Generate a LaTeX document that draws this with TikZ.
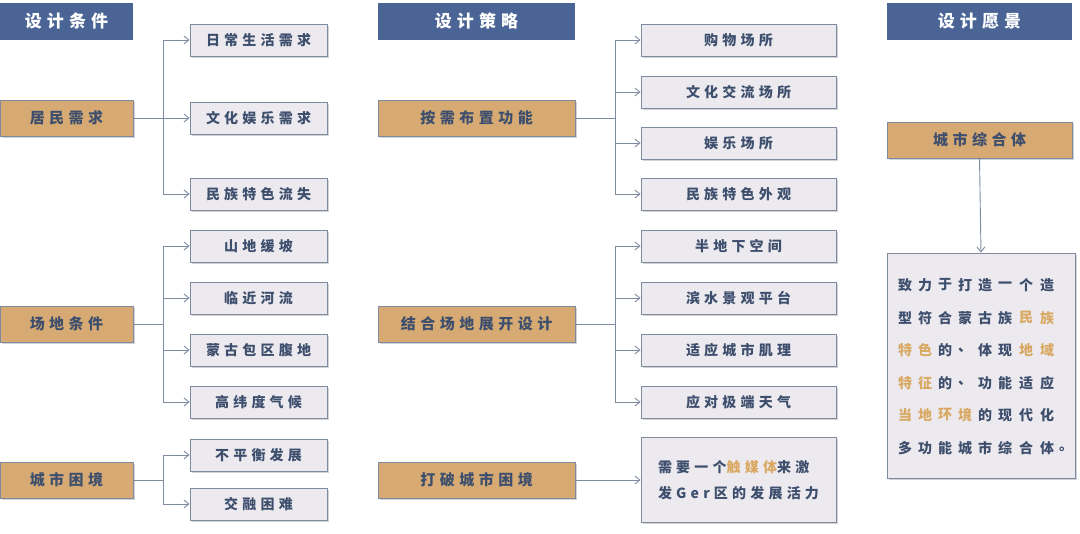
\documentclass[tikz,border=0pt]{standalone}
\usepackage{fontspec}
\usetikzlibrary{shadows,arrows.meta}
\newfontfamily\cjk{Noto Sans CJK SC}[LetterSpace=30]
\newfontfamily\cjkb{Noto Sans CJK SC}
\definecolor{hblue}{HTML}{4A6595}
\definecolor{horange}{HTML}{D6AA72}
\definecolor{tdark}{HTML}{3E4F6E}
\definecolor{bfill}{HTML}{ECEAEE}
\definecolor{bline}{HTML}{7D8AA0}
\definecolor{tor}{HTML}{D9A862}
\begin{document}
\begin{tikzpicture}[x=1pt,y=-1pt,
  base/.style={inner sep=0,font=\cjk\bfseries},
  hdr/.style={base,fill=hblue,text=white,minimum height=37,font=\cjk\bfseries\fontsize{17}{17}\selectfont},
  par/.style={base,fill=horange,draw=bline,line width=0.8,text=tdark,minimum height=36,font=\cjk\bfseries\fontsize{15}{15}\selectfont,drop shadow={shadow xshift=2pt,shadow yshift=-2pt,opacity=0.35}},
  kid/.style={base,fill=bfill,draw=bline,line width=0.8,text=tdark,minimum height=32,font=\cjk\bfseries\fontsize{14}{14}\selectfont,drop shadow={shadow xshift=2pt,shadow yshift=-2pt,opacity=0.35}},
  ln/.style={draw=bline,line width=0.9},
  ar/.style={ln,-{Straight Barb[length=5pt,width=8pt]}}]
\useasboundingbox (0,0) rectangle (1080,534);
\fill[white] (0,0) rectangle (1080,534);
% headers
\node[hdr,minimum width=133] (h1) at (66.5,21.5) {设计条件};
\node[hdr,minimum width=197] (h2) at (476.5,21.5) {设计策略};
\node[hdr,minimum width=185] (h3) at (979.5,21.5) {设计愿景};
% left parents
\node[par,minimum width=133] (p1) at (66.5,118) {居民需求};
\node[par,minimum width=133] (p2) at (66.5,324) {场地条件};
\node[par,minimum width=133] (p3) at (66.5,480) {城市困境};
% left kids
\foreach \n/\y/\t in {a1/40/日常生活需求,a2/118/文化娱乐需求,a3/194/民族特色流失,
  b1/246/山地缓坡,b2/298/临近河流,b3/350/蒙古包区腹地,b4/402/高纬度气候,
  c1/455/不平衡发展,c2/504/交融困难}
  \node[kid,minimum width=137] (\n) at (258.5,\y) {\t};
% mid parents
\node[par,minimum width=197] (q1) at (476.5,118) {按需布置功能};
\node[par,minimum width=197] (q2) at (476.5,324) {结合场地展开设计};
\node[par,minimum width=197] (q3) at (476.5,480) {打破城市困境};
% right kids
\foreach \n/\y/\t in {d1/40/购物场所,d2/92/文化交流场所,d3/143/娱乐场所,d4/194/民族特色外观,
  e1/246/半地下空间,e2/298/滨水景观平台,e3/350/适应城市肌理,e4/402/应对极端天气}
  \node[kid,minimum width=195] (\n) at (738.5,\y) {\t};
\node[kid,minimum width=195,minimum height=85,align=left] (f1) at (738.5,480)
  {需要一个\textcolor{tor}{触媒体}来激\\[12pt]发Ger区的发展活力};
% connectors left
\coordinate (t1) at (163,118);
\draw[ln] (p1.east) -- (t1);
\draw[ar] (t1) |- (a1.west); \draw[ar] (t1) -- (a2.west); \draw[ar] (t1) |- (a3.west);
\coordinate (t2) at (163,324);
\draw[ln] (p2.east) -- (t2);
\foreach \k in {b1,b2,b3,b4} \draw[ar] (t2) |- (\k.west);
\coordinate (t3) at (163,480);
\draw[ln] (p3.east) -- (t3);
\foreach \k in {c1,c2} \draw[ar] (t3) |- (\k.west);
% connectors mid
\coordinate (u1) at (615,118);
\draw[ln] (q1.east) -- (u1);
\foreach \k in {d1,d2,d3,d4} \draw[ar] (u1) |- (\k.west);
\coordinate (u2) at (615,324);
\draw[ln] (q2.east) -- (u2);
\foreach \k in {e1,e2,e3,e4} \draw[ar] (u2) |- (\k.west);
\draw[ar] (q3.east) -- (f1.west);
% right
\node[par,minimum width=185] (r1) at (979.5,140) {城市综合体};
\node[kid,minimum width=188,minimum height=225] (r2) at (981,365.5) {};
\draw[ar] (r1.south) -- (r2.north);
\def\cx{{905,925,945,965,985,1005,1026,1047}}
\newcommand\gridline[2]{%
  \foreach \c [count=\i from 0] in {#2}
    \node[font=\cjkb\bfseries\fontsize{14}{14}\selectfont,text=tdark,inner sep=0] at ({\cx[\i]},#1) {\c};}
\gridline{285}{致,力,于,打,造,一,个,造}
\gridline{318}{型,符,合,蒙,古,族,\textcolor{tor}{民},\textcolor{tor}{族}}
\gridline{350}{\textcolor{tor}{特},\textcolor{tor}{色},的,、,体,现,\textcolor{tor}{地},\textcolor{tor}{域}}
\gridline{383}{\textcolor{tor}{特},\textcolor{tor}{征},的,、,功,能,适,应}
\gridline{415}{\textcolor{tor}{当},\textcolor{tor}{地},\textcolor{tor}{环},\textcolor{tor}{境},的,现,代,化}
\gridline{448}{多,功,能,城,市,综,合,体}
\node[font=\cjkb\bfseries\fontsize{14}{14}\selectfont,text=tdark,inner sep=0] at (1066,449) {。};
\end{tikzpicture}
\end{document}
